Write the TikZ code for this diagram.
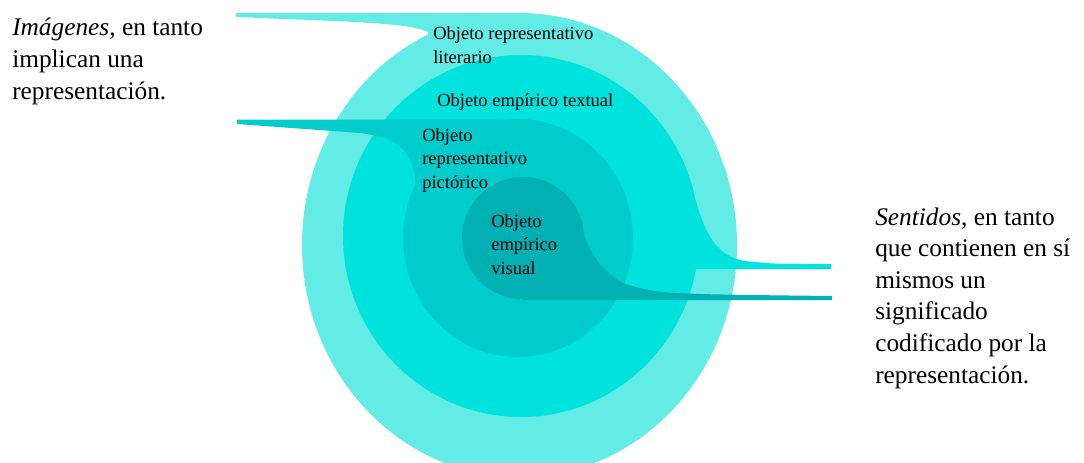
\documentclass[tikz,border=0pt]{standalone}
\usepackage{fontspec}
\setmainfont{Liberation Serif}
\definecolor{LitFill}{HTML}{63ECE6}
\definecolor{TextFill}{HTML}{00E2DC}
\definecolor{PicFill}{HTML}{00CCCC}
\definecolor{VisFill}{HTML}{00B0B2}
\tikzset{
  ringtext/.style={anchor=base west,inner sep=0pt,align=left,text=black,font=\fontsize{13.9}{17.3}\selectfont},
  sidetext/.style={anchor=base west,inner sep=0pt,align=left,text=black,font=\fontsize{19}{23.7}\selectfont}
}

\begin{document}
\begin{tikzpicture}[x=0.75pt,y=-0.75pt]
  \useasboundingbox (0,0) rectangle (1084,462);
  \clip (0,0) rectangle (1084,462);
  % representativo literario
  \fill[LitFill] (519.5,245) ellipse [x radius=217.5,y radius=232];
  \fill[LitFill] (236,13) -- (519.5,13) -- (519.5,60) -- (430,60) -- (428,32)
    .. controls (415,26) and (390,24) .. (347,21.5) -- (236,17) -- cycle;
  % empirico textual
  \fill[TextFill] (521,236) ellipse [x radius=178,y radius=181];
  \fill[TextFill] (660,187) -- (692,187) .. controls (702,225) and (712,256) .. (745,261)
    .. controls (775,264) .. (831,264) -- (831,269) -- (660,269) -- cycle;
  % representativo pictorico
  \fill[PicFill] (518,238) ellipse [x radius=115,y radius=119];
  \fill[PicFill] (237,119.5) -- (518,119.5) -- (518,200) -- (418,200) -- (416,185)
    .. controls (412,150) and (400,138) .. (360,133) -- (237,124) -- cycle;
  % empirico visual
  \fill[VisFill] (523,238) circle [radius=61];
  \fill[VisFill] (523,205) -- (575,205) .. controls (581,222) and (586,265) .. (625,284)
    .. controls (660,294) .. (832,296) -- (832,300) -- (523,300) -- cycle;

  % base = baseline of the last line
  \node[ringtext] (lit) at (433,63) {Objeto representativo\\literario};
  \node[ringtext] (textual) at (437,106) {Objeto empírico textual};
  \node[ringtext] (pict) at (422,188) {Objeto\\representativo\\pictórico};
  \node[ringtext] (visual) at (491,274) {Objeto\\empírico\\visual};
  \node[sidetext] (imagenes) at (12,99) {\textit{Imágenes,} en tanto\\implican una\\representación.};
  \node[sidetext] (sentidos) at (875,383) {\textit{Sentidos}, en tanto\\que contienen en sí\\mismos un\\significado\\codificado por la\\representación.};
\end{tikzpicture}
\end{document}
